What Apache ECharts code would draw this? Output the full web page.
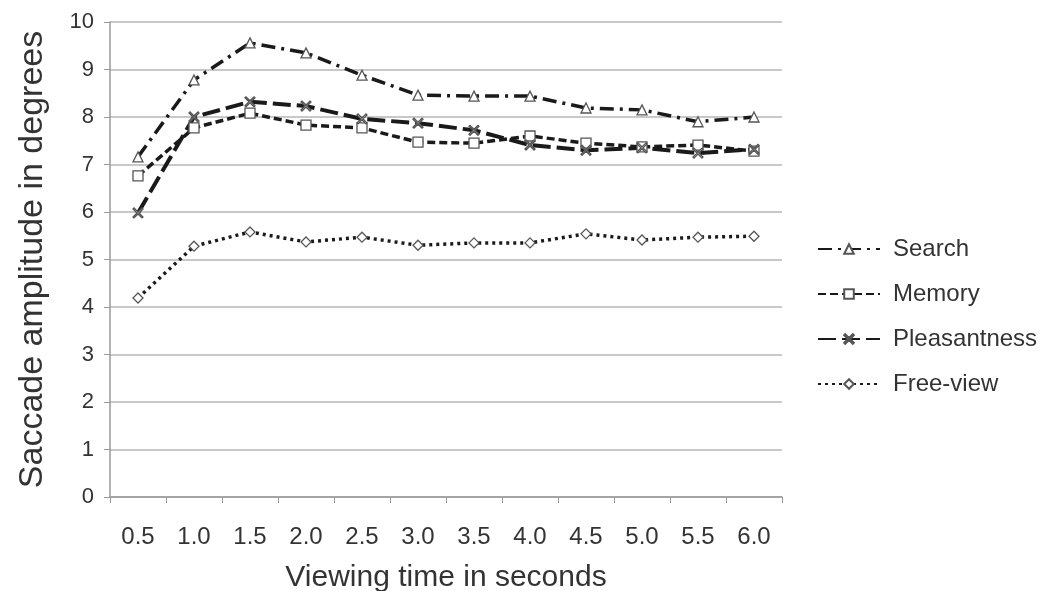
<!DOCTYPE html>
<html>
<head>
<meta charset="utf-8">
<script src="https://cdn.jsdelivr.net/npm/echarts@6/dist/echarts.min.js"></script>
<style>
  html, body { margin: 0; padding: 0; background: #fff; }
  #chart { width: 1046px; height: 591px; }
</style>
</head>
<body>
<div id="chart"></div>
<script>
// viewing time categories
const times = ['0.5', '1.0', '1.5', '2.0', '2.5', '3.0', '3.5', '4.0', '4.5', '5.0', '5.5', '6.0']
const search = [7.16, 8.78, 9.56, 9.35, 8.88, 8.46, 8.44, 8.44, 8.19, 8.15, 7.9, 8.0]
const memory = [6.76, 7.77, 8.08, 7.83, 7.77, 7.47, 7.45, 7.6, 7.45, 7.37, 7.41, 7.28]
const pleasantness = [5.98, 8.0, 8.32, 8.23, 7.96, 7.87, 7.72, 7.41, 7.3, 7.35, 7.24, 7.32]
const freeView = [4.19, 5.28, 5.58, 5.37, 5.47, 5.3, 5.35, 5.35, 5.54, 5.41, 5.47, 5.49]

const font = '"Liberation Sans", Arial, sans-serif'
const ink = '#1a1a1a'

function makeSeries (name, data, dash, width, symbol, size) {
  return {
    name: name,
    type: 'line',
    data: data,
    symbol: symbol,
    symbolSize: size,
    lineStyle: { color: ink, width: width, type: dash },
    itemStyle: { color: '#fff', borderColor: '#555', borderWidth: 1.3 },
    emphasis: { disabled: true },
    z: 3
  }
}

const chart = echarts.init(document.getElementById('chart'))
chart.setOption({
  animation: false,
  grid: { left: 110, right: 264, top: 22, bottom: 94, outerBoundsMode: 'none', containLabel: false },
  legend: {
    orient: 'vertical',
    left: 812,
    top: 232,
    itemWidth: 62,
    itemHeight: 12,
    itemGap: 21,
    textStyle: { fontFamily: font, fontSize: 24, color: '#333', padding: [0, 0, 0, 8] },
    data: ['Search', 'Memory', 'Pleasantness', 'Free-view']
  },
  xAxis: {
    type: 'category',
    data: times,
    boundaryGap: true,
    name: 'Viewing time in seconds',
    nameLocation: 'middle',
    nameGap: 66,
    nameTextStyle: { fontFamily: font, fontSize: 30, color: '#333' },
    axisLine: { lineStyle: { color: '#999', width: 1.5 } },
    axisTick: { show: true, length: 6, lineStyle: { color: '#999' } },
    axisLabel: { fontFamily: font, fontSize: 24, color: '#333', margin: 28 }
  },
  yAxis: {
    type: 'value',
    min: 0,
    max: 10,
    interval: 1,
    name: 'Saccade amplitude in degrees',
    nameLocation: 'middle',
    nameGap: 60,
    nameTextStyle: { fontFamily: font, fontSize: 34, color: '#333' },
    axisLine: { show: true, lineStyle: { color: '#999', width: 1.5 } },
    axisTick: { show: true, length: 6, lineStyle: { color: '#999' } },
    axisLabel: { fontFamily: font, fontSize: 22, color: '#333', margin: 16 },
    splitLine: { lineStyle: { color: '#c8c8c8', width: 2 } }
  },
  series: [
    makeSeries('Search', search, [14, 6, 3, 6], 3.5, 'triangle', 10),
    makeSeries('Memory', memory, [8, 4], 3.5, 'rect', 10),
    makeSeries('Pleasantness', pleasantness, [18, 6], 4, 'path://M0,1L1,0L5,4L9,0L10,1L6,5L10,9L9,10L5,6L1,10L0,9L4,5Z', 10),
    makeSeries('Free-view', freeView, [3, 4], 3.5, 'diamond', 10)
  ]
})
</script>
</body>
</html>
